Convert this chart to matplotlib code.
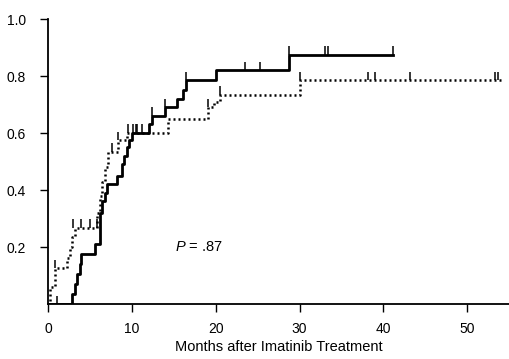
import matplotlib
matplotlib.use('Agg')
import matplotlib.pyplot as plt

plt.rcParams['font.family'] = 'Liberation Sans'
plt.rcParams['mathtext.fontset'] = 'custom'
plt.rcParams['mathtext.it'] = 'Liberation Sans:italic'
plt.rcParams['mathtext.rm'] = 'Liberation Sans'

# solid curve: event times (months) and cumulative proportion
solid_t = [0, 2.9, 3.2, 3.5, 3.8, 4.0, 5.6, 6.2, 6.5, 6.8, 7.0, 8.2, 8.8, 9.1, 9.4, 9.7,
           10.0, 12.0, 12.4, 14.0, 15.4, 16.1, 16.5, 20.0, 28.7, 41.2]
solid_v = [0, 0.035, 0.07, 0.105, 0.14, 0.175, 0.21, 0.32, 0.36, 0.39, 0.42, 0.45, 0.49, 0.52,
           0.55, 0.575, 0.60, 0.63, 0.66, 0.69, 0.72, 0.75, 0.785, 0.82, 0.875, 0.875]
solid_cens_t = [1.1, 10.5, 11.2, 12.4, 14.0, 16.5, 23.5, 25.3, 28.7, 33.0, 33.4, 41.2]
solid_cens_v = [0, 0.60, 0.60, 0.66, 0.69, 0.785, 0.82, 0.82, 0.875, 0.875, 0.875, 0.875]

# dotted curve
dot_t = [0, 0.3, 0.8, 2.3, 2.6, 2.9, 3.2, 5.9, 6.2, 6.5, 6.8, 7.2, 8.3, 9.4,
         14.3, 19.1, 19.8, 20.5, 30.0, 54.0]
dot_v = [0, 0.06, 0.125, 0.16, 0.20, 0.235, 0.267, 0.32, 0.38, 0.43, 0.48, 0.535, 0.575, 0.60,
         0.65, 0.69, 0.71, 0.735, 0.785, 0.785]
dot_cens_t = [0.8, 3.0, 4.0, 5.0, 5.8, 7.6, 8.3, 9.6, 10.1, 10.6, 19.1, 20.5, 30.0,
              38.2, 39.0, 43.2, 53.3, 53.7]
dot_cens_v = [0.125, 0.267, 0.267, 0.267, 0.267, 0.535, 0.575, 0.60, 0.60, 0.60, 0.69, 0.735,
              0.785, 0.785, 0.785, 0.785, 0.785, 0.785]

fig = plt.figure(figsize=(5.1, 3.59), dpi=100)
ax = fig.add_axes([0.094, 0.153, 0.906, 0.794])

ax.step(solid_t, solid_v, where='post', color='black', lw=2.0)
ax.step(dot_t, dot_v, where='post', color='black', lw=1.8, linestyle=(0, (0.8, 1.2)))
ax.vlines(solid_cens_t, solid_cens_v, [v + 0.03 for v in solid_cens_v], color='black', lw=1.1)
ax.vlines(dot_cens_t, dot_cens_v, [v + 0.03 for v in dot_cens_v], color='black', lw=1.1)

ax.text(15.2, 0.2, r'$P$ = .87', fontsize=10.5, va='center')

ax.set_xlim(0, 55.1)
ax.set_ylim(0, 1.0)
ax.set_xticks([0, 10, 20, 30, 40, 50])
ax.set_yticks([0.2, 0.4, 0.6, 0.8, 1.0])
ax.set_yticklabels(['0.2', '0.4', '0.6', '0.8', '1.0'])
ax.tick_params(labelsize=10, length=6, width=1, direction='out')
ax.tick_params(axis='y', pad=10)
ax.tick_params(axis='x', pad=7)
ax.set_xlabel('Months after Imatinib Treatment', fontsize=10.5, labelpad=3)
ax.spines['top'].set_visible(False)
ax.spines['right'].set_visible(False)
ax.spines['left'].set_linewidth(1.3)
ax.spines['bottom'].set_linewidth(1.3)

plt.savefig('out.png', dpi=100)
